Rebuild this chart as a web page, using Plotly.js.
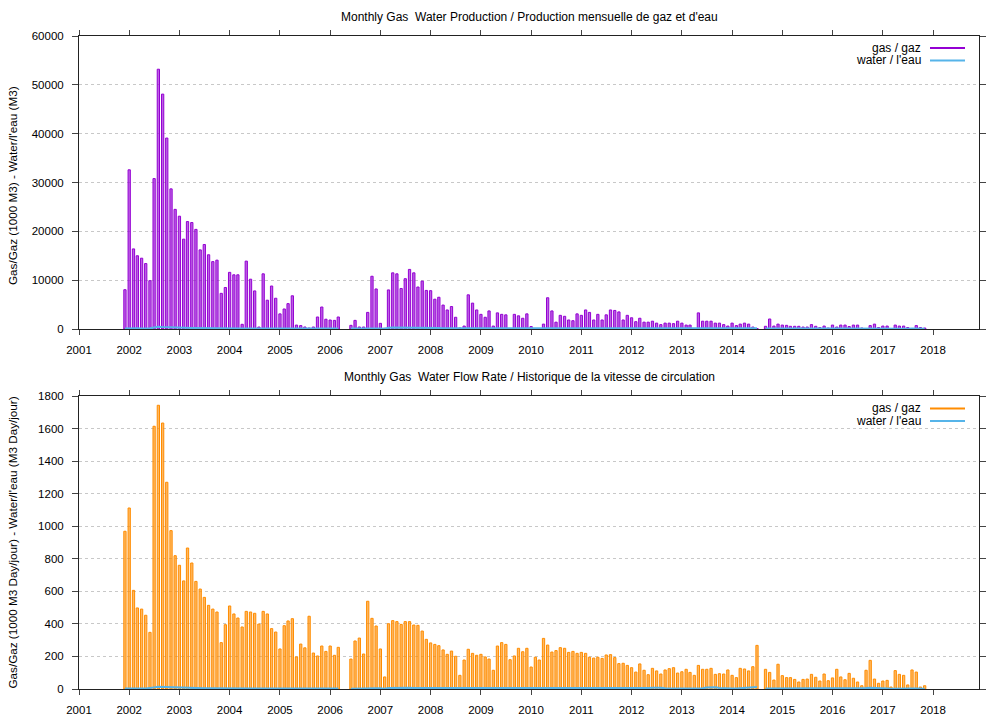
<!DOCTYPE html>
<html>
<head>
<meta charset="utf-8">
<script src="https://cdn.plot.ly/plotly-3.0.1.min.js"></script>
<style>html,body{margin:0;padding:0;background:#fff;}#chart{width:1008px;height:720px;}</style>
</head>
<body>
<div id="chart"></div>
<script>
// First month of the series (bars are stamped on the 1st of each month)
const startYear = 2001;
const startMonth = 12;

// Monthly gas production (1000 M3), Dec 2001 .. Nov 2017
const gasProd = [
  8050, 32600, 16400, 15000, 14500, 13400, 9900, 30800, 53200, 48100, 39100, 28700,
  24500, 23100, 18400, 22000, 21800, 20400, 16200, 17300, 15200, 13800, 14100, 7300,
  8500, 11600, 11100, 11100, 960, 13900, 10200, 7800, 400, 11300, 5900, 8800,
  6300, 3100, 4100, 5200, 6800, 800, 700, 410, 200, 410, 2460, 4500,
  2000, 1840, 1770, 2460, null, null, 750, 1770, 410, 410, 3400, 10800,
  8200, 1160, 150, 8000, 11500, 11300, 8300, 10300, 12200, 11500, 8600, 9800,
  7900, 7850, 6100, 6500, 4900, 3900, 4600, 2400, 200, 600, 7000, 5300,
  3900, 3000, 2400, 3700, 600, 3300, 3000, 2900, 100, 3000, 2700, 2200,
  3100, 500, 100, 100, 1000, 6400, 3700, 1400, 2800, 2600, 1850, 1700,
  3100, 2800, 3900, 3400, 1850, 3000, 1850, 2900, 3900, 3800, 3500, 1850,
  2800, 2300, 1500, 2200, 1400, 1400, 1600, 1200, 900, 1200, 1200, 1100,
  1600, 1200, 800, 800, 100, 3300, 1600, 1600, 1600, 1200, 1200, 900,
  600, 1200, 700, 1000, 1200, 1000, 400, 100, null, 550, 2050, 600,
  1000, 800, 750, 550, 550, 550, 400, 400, 900, 550, 300, 600,
  200, 800, 400, 800, 800, 500, 800, 800, 200, 100, 700, 1000,
  300, 600, 600, null, 800, 600, 600, 300, 100, 700, 300, 200
];

// Monthly water production (M3)
const waterProd = [
  100, 150, 150, 150, 120, 120, 150, 300, 450, 400, 350, 300,
  250, 200, 180, 200, 200, 180, 160, 150, 150, 140, 120, 120,
  120, 100, 110, 100, 90, 110, 100, 100, 80, 100, 100, 90,
  100, 90, 100, 100, 110, 90, 80, 80, 70, 80, 90, 100,
  90, 90, 80, 90, null, null, 80, 100, 80, 80, 120, 200,
  180, 120, 60, 250, 300, 300, 280, 300, 320, 300, 280, 250,
  250, 220, 200, 180, 150, 150, 120, 100, 60, 80, 150, 140,
  130, 120, 110, 120, 90, 110, 110, 100, 80, 110, 100, 100,
  110, 80, 80, 80, 100, 150, 140, 120, 120, 120, 110, 110,
  120, 120, 130, 120, 110, 120, 110, 120, 130, 130, 120, 110,
  110, 110, 100, 110, 100, 100, 110, 120, 120, 110, 110, 100,
  110, 100, 90, 90, 60, 120, 110, 130, 150, 150, 130, 110,
  100, 110, 90, 100, 110, 120, 150, 150, null, 90, 120, 90,
  100, 90, 90, 80, 80, 80, 80, 80, 90, 80, 70, 80,
  70, 90, 80, 90, 90, 80, 90, 90, 70, 110, 130, 110,
  80, 90, 90, 60, 90, 80, 80, 70, 80, 90, 70, 60
];

// Monthly gas flow rate (1000 M3 / day)
const gasRate = [
  969, 1112, 606, 498, 491, 453, 348, 1614, 1743, 1634, 1270, 973,
  819, 760, 664, 866, 774, 661, 614, 563, 514, 491, 473, 285,
  395, 510, 461, 436, 381, 477, 473, 465, 399, 477, 461, 371,
  350, 246, 389, 418, 432, 197, 276, 253, 447, 221, 203, 264,
  231, 264, 207, 256, null, null, 184, 295, 313, 215, 539, 434,
  387, 246, 74, 401, 420, 414, 397, 414, 414, 393, 391, 356,
  305, 283, 274, 266, 240, 213, 233, 201, 84, 178, 244, 219,
  207, 213, 197, 184, 115, 264, 285, 274, 180, 203, 250, 229,
  250, 135, 195, 178, 311, 270, 227, 236, 254, 250, 225, 231,
  219, 225, 219, 195, 190, 195, 188, 209, 211, 193, 156, 158,
  145, 131, 104, 154, 115, 88, 127, 111, 92, 117, 125, 131,
  98, 106, 121, 102, 84, 145, 121, 121, 127, 90, 94, 92,
  117, 84, 70, 127, 123, 111, 137, 268, null, 121, 102, 55,
  152, 82, 70, 70, 59, 43, 59, 61, 90, 72, 49, 92,
  51, 68, 121, 74, 57, 96, 66, 43, 20, 115, 176, 61,
  35, 49, 53, 12, 113, 90, 84, 25, 117, 104, 12, 20
];

// Monthly water flow rate (M3 / day)
const waterRate = [
  3, 4, 4, 4, 3, 3, 5, 10, 14, 13, 12, 10,
  8, 6, 6, 6, 5, 5, 5, 4, 4, 4, 3, 3,
  3, 3, 3, 3, 3, 3, 3, 3, 3, 3, 3, 3,
  3, 3, 3, 3, 3, 3, 3, 3, 2, 3, 3, 3,
  3, 3, 3, 3, null, null, 2, 3, 3, 2, 4, 6,
  5, 4, 2, 6, 7, 7, 6, 7, 7, 6, 6, 5,
  5, 5, 4, 4, 4, 3, 3, 3, 2, 3, 4, 4,
  3, 3, 3, 4, 3, 3, 4, 3, 3, 3, 3, 3,
  3, 3, 3, 3, 4, 4, 4, 3, 3, 3, 3, 3,
  3, 3, 4, 3, 3, 3, 3, 3, 4, 4, 3, 3,
  3, 3, 3, 3, 3, 6, 7, 8, 7, 4, 3, 3,
  3, 3, 3, 3, 3, 4, 4, 9, 10, 10, 6, 4,
  3, 3, 3, 4, 5, 6, 10, 12, null, 3, 3, 3,
  3, 3, 3, 3, 3, 3, 3, 3, 3, 3, 3, 3,
  3, 3, 3, 3, 3, 3, 3, 3, 3, 6, 8, 6,
  3, 3, 3, 2, 3, 3, 3, 2, 3, 3, 2, 2
];

// Tick years on the time axis
const tickYears = [2001,2002,2003,2004,2005,2006,2007,2008,2009,2010,2011,2012,2013,2014,2015,2016,2017,2018];

const topTitle = "Monthly Gas\u00a0\u00a0Water Production / Production mensuelle de gaz et d'eau";
const botTitle = "Monthly Gas\u00a0\u00a0Water Flow Rate / Historique de la vitesse de circulation";
const topYTitle = "Gas/Gaz (1000 M3) - Water/l'eau (M3)";
const botYTitle = "Gas/Gaz (1000 M3 Day/jour) - Water/l'eau (M3 Day/jour)";
const legendGas = "gas / gaz";
const legendWater = "water / l'eau";

// build month stamps (categories)
const months = gasProd.map((_, i) => {
  const m0 = (startMonth - 1) + i;
  const y = startYear + Math.floor(m0 / 12);
  const m = (m0 % 12) + 1;
  return y + '-' + String(m).padStart(2, '0') + '-01';
});
const tickVals = tickYears.map(y => y + '-01-01');
const tickText = tickYears.map(String);

const PURPLE = '#9400d3', ORANGE = '#ff8c00', BLUE = '#56b4e9';
const barW = 16.5 * 86400000;
const FONT = 'Liberation Sans, Arial, Helvetica, sans-serif';

const traces = [
  {type:'bar', x:months, y:gasProd, xaxis:'x', yaxis:'y', width:barW,
   marker:{color:'rgba(148,0,211,0.62)', line:{color:PURPLE, width:1}}, hoverinfo:'x+y'},
  {type:'scatter', mode:'lines', x:months, y:waterProd, xaxis:'x', yaxis:'y',
   line:{color:BLUE, width:2}, connectgaps:false},
  {type:'bar', x:months, y:gasRate, xaxis:'x2', yaxis:'y2', width:barW,
   marker:{color:'rgba(255,140,0,0.62)', line:{color:ORANGE, width:1}}, hoverinfo:'x+y'},
  {type:'scatter', mode:'lines', x:months, y:waterRate, xaxis:'x2', yaxis:'y2',
   line:{color:BLUE, width:2}, connectgaps:false}
];

const xCommon = {
  type:'date', range:['2001-01-01','2018-12-01'], tickmode:'array',
  tickvals:tickVals, ticktext:tickText, ticks:'outside', ticklen:5, tickwidth:1,
  tickcolor:'#444', showline:true, linecolor:'#222', linewidth:1, mirror:'ticks',
  showgrid:false, zeroline:false, tickfont:{family:FONT, size:11.5, color:'#000'},
  ticklabelstandoff:5, layer:'below traces', fixedrange:true
};
const yCommon = {
  ticks:'outside', ticklen:6, tickwidth:1, tickcolor:'#444', showline:true,
  linecolor:'#222', linewidth:1, mirror:'ticks', showgrid:true, gridcolor:'#c8c8c8',
  griddash:'3px,3px', gridwidth:1, zeroline:false, tickformat:'d',
  tickfont:{family:FONT, size:11.5, color:'#000'}, ticklabelstandoff:6,
  layer:'below traces', fixedrange:true
};

const topFrac = 293/653;
const py = p => (689 - p) / 653;
const px = p => (p - 79) / 900;

const annotations = [
  {text:topTitle, xref:'paper', yref:'paper', x:0.5, y:py(17), xanchor:'center', yanchor:'middle', showarrow:false, font:{family:FONT, size:12, color:'#000'}},
  {text:botTitle, xref:'paper', yref:'paper', x:0.5, y:py(377), xanchor:'center', yanchor:'middle', showarrow:false, font:{family:FONT, size:12, color:'#000'}},
  {text:topYTitle, xref:'paper', yref:'paper', x:px(12), y:py(186), xanchor:'center', yanchor:'middle', textangle:-90, showarrow:false, font:{family:FONT, size:11.7, color:'#000'}},
  {text:botYTitle, xref:'paper', yref:'paper', x:px(12), y:py(542.5), xanchor:'center', yanchor:'middle', textangle:-90, showarrow:false, font:{family:FONT, size:11.7, color:'#000'}},
  {text:legendGas, xref:'paper', yref:'paper', x:px(923), y:py(47.5), xanchor:'right', yanchor:'middle', showarrow:false, font:{family:FONT, size:12, color:'#000'}},
  {text:legendWater, xref:'paper', yref:'paper', x:px(923), y:py(60), xanchor:'right', yanchor:'middle', showarrow:false, font:{family:FONT, size:12, color:'#000'}},
  {text:legendGas, xref:'paper', yref:'paper', x:px(923), y:py(408), xanchor:'right', yanchor:'middle', showarrow:false, font:{family:FONT, size:12, color:'#000'}},
  {text:legendWater, xref:'paper', yref:'paper', x:px(923), y:py(421), xanchor:'right', yanchor:'middle', showarrow:false, font:{family:FONT, size:12, color:'#000'}}
];
const legLine = (yp, col) => ({type:'line', xref:'paper', yref:'paper', x0:px(930), x1:px(965), y0:py(yp), y1:py(yp), line:{color:col, width:2}});
const shapes = [legLine(48, PURPLE), legLine(60.5, BLUE), legLine(408.5, ORANGE), legLine(421, BLUE)];

const layout = {
  width:1008, height:720, margin:{l:79, r:29, t:36, b:31, pad:0},
  paper_bgcolor:'#fff', plot_bgcolor:'#fff', showlegend:false, barmode:'overlay',
  font:{family:FONT, size:11, color:'#000'},
  xaxis:Object.assign({}, xCommon, {anchor:'y'}),
  xaxis2:Object.assign({}, xCommon, {anchor:'y2'}),
  yaxis:Object.assign({}, yCommon, {domain:[1-topFrac, 1], range:[0, 60000], dtick:10000, anchor:'x'}),
  yaxis2:Object.assign({}, yCommon, {domain:[0, topFrac], range:[0, 1800], dtick:200, anchor:'x2'}),
  annotations:annotations, shapes:shapes
};

Plotly.newPlot('chart', traces, layout, {displayModeBar:false, staticPlot:true});
</script>
</body>
</html>
